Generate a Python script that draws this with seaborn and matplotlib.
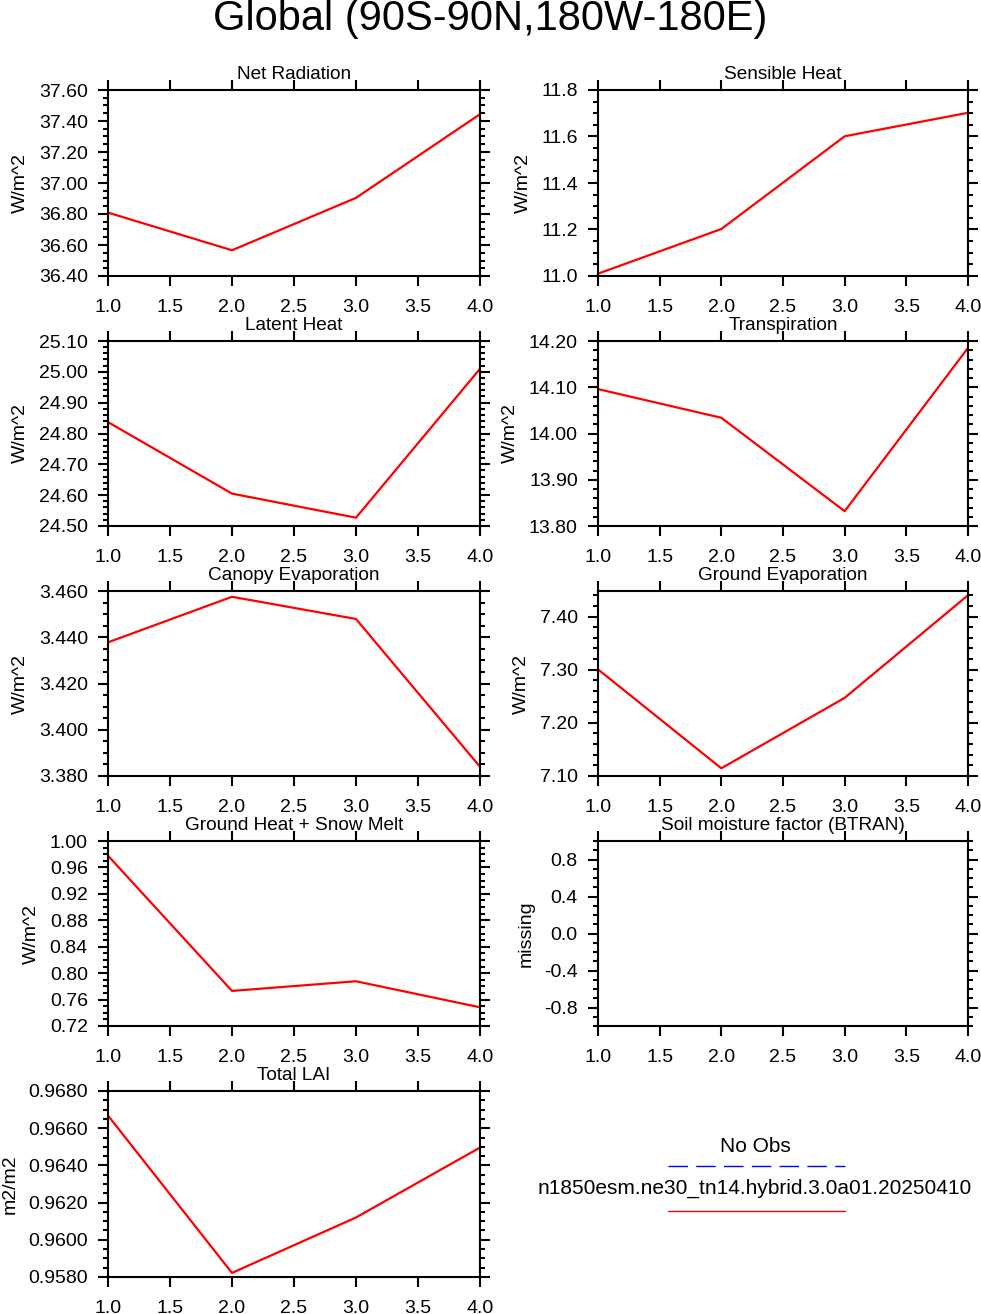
import numpy as np
import pandas as pd
import matplotlib
matplotlib.use('Agg')
import matplotlib.pyplot as plt
from matplotlib.ticker import MultipleLocator, FormatStrFormatter, AutoMinorLocator
from matplotlib.lines import Line2D
import seaborn as sns

sns.set_style('ticks')
plt.rcParams['font.family'] = ['Liberation Sans', 'DejaVu Sans']
for k in ['text.color', 'axes.labelcolor', 'xtick.color', 'ytick.color', 'axes.edgecolor']:
    plt.rcParams[k] = 'black'

# model years on the x axis
years = [1, 2, 3, 4]

net_rad = [36.809, 36.566, 36.904, 37.444]
sens_heat = [11.010, 11.202, 11.601, 11.702]
lat_heat = [24.837, 24.605, 24.527, 25.010]
transp = [14.096, 14.034, 13.832, 14.185]
canopy_evap = [3.4378, 3.4575, 3.4479, 3.3840]
ground_evap = [7.3006, 7.1145, 7.2470, 7.4400]
ground_heat = [0.9778, 0.7731, 0.7877, 0.7483]
btran = []  # missing
total_lai = [0.96668, 0.95822, 0.9612, 0.96496]

titles = ['Net Radiation', 'Sensible Heat', 'Latent Heat', 'Transpiration',
          'Canopy Evaporation', 'Ground Evaporation', 'Ground Heat + Snow Melt',
          'Soil moisture factor (BTRAN)', 'Total LAI']
units = ['W/m^2'] * 7 + ['missing', 'm2/m2']
series = [net_rad, sens_heat, lat_heat, transp, canopy_evap, ground_evap,
          ground_heat, btran, total_lai]

# (ymin, ymax, major step, minor divisions, label format)
yaxes = [
    (36.40, 37.60, 0.2, 4, '%.2f'),
    (11.0, 11.8, 0.2, 4, '%.1f'),
    (24.50, 25.10, 0.1, 5, '%.2f'),
    (13.80, 14.20, 0.1, 5, '%.2f'),
    (3.380, 3.460, 0.02, 4, '%.3f'),
    (7.10, 7.448, 0.1, 5, '%.2f'),
    (0.72, 1.00, 0.04, 4, '%.2f'),
    (-1.0, 1.0, 0.4, 4, '%.1f'),
    (0.9580, 0.9680, 0.002, 4, '%.4f'),
]

fig = plt.figure(figsize=(9.81, 13.14), dpi=100)
W, H = 981, 1314
cols = [(108, 480), (598, 968)]
rows = [(90, 276), (341, 526), (591, 776), (841, 1026), (1091, 1277)]

fig.text(0.5, 1 - 19 / H, 'Global (90S-90N,180W-180E)', ha='center', va='center',
         fontsize=30)

for i, (title, unit, vals, ya) in enumerate(zip(titles, units, series, yaxes)):
    r, c = divmod(i, 2)
    x0, x1 = cols[c]
    top, bot = rows[r]
    ax = fig.add_axes([x0 / W, 1 - bot / H, (x1 - x0) / W, (bot - top) / H])
    if len(vals):
        df = pd.DataFrame({'year': years, 'val': vals})
        sns.lineplot(data=df, x='year', y='val', ax=ax, color='red', linewidth=1.6)
    ymin, ymax, step, nminor, fmt = ya
    ax.set_xlim(1, 4)
    ax.set_ylim(ymin, ymax)
    ax.xaxis.set_major_locator(MultipleLocator(0.5))
    ax.xaxis.set_major_formatter(FormatStrFormatter('%.1f'))
    if ymin < 0:
        ax.set_yticks([-0.8, -0.4, 0.0, 0.4, 0.8])
        ax.yaxis.set_minor_locator(MultipleLocator(0.1))
    else:
        ax.yaxis.set_major_locator(MultipleLocator(step))
        ax.yaxis.set_minor_locator(AutoMinorLocator(nminor))
    ax.yaxis.set_major_formatter(FormatStrFormatter(fmt))
    ax.set_xlabel('')
    ax.set_ylabel(unit, fontsize=14, labelpad=7)
    for s in ax.spines.values():
        s.set_linewidth(1.5)
    ax.tick_params(which='both', direction='out', top=True, right=True,
                   width=1.5, labelsize=14)
    ax.tick_params(which='major', length=7.5, pad=7)
    ax.tick_params(axis='x', which='major', pad=9)
    ax.tick_params(which='minor', length=3.5)
    ax.tick_params(axis='x', which='minor', bottom=False, top=False)
    ax.text(0.5, 1.06, title, transform=ax.transAxes, ha='center',
            va='baseline', fontsize=13.7)

# legend block at lower right
fig.text(755 / W, 1 - 1146 / H, 'No Obs', ha='center', va='center', fontsize=15)
fig.add_artist(Line2D([668 / W, 845 / W], [1 - 1166 / H] * 2, color='blue',
                      linewidth=1.0, linestyle=(0, (14, 6))))
fig.text(755 / W, 1 - 1188 / H, 'n1850esm.ne30_tn14.hybrid.3.0a01.20250410',
         ha='center', va='center', fontsize=15)
fig.add_artist(Line2D([668 / W, 845 / W], [1 - 1211 / H] * 2, color='red',
                      linewidth=1.0))

fig.savefig('out.png', dpi=100)
